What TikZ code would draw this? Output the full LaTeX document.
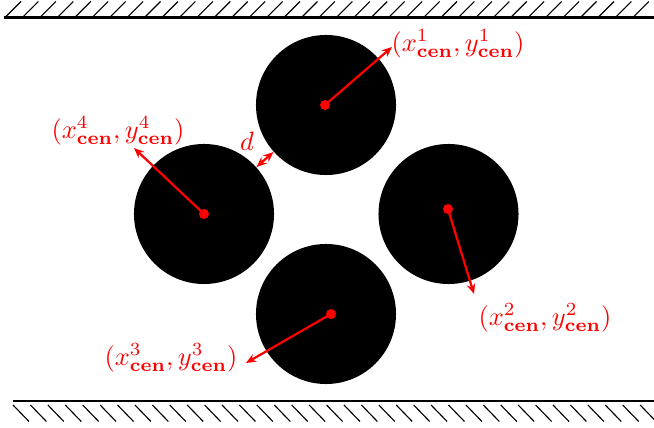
\documentclass[tikz,border=0pt]{standalone}
\usetikzlibrary{arrows.meta}

\begin{document}
\begin{tikzpicture}[
  x=0.0125cm, y=-0.0125cm,
  disk/.style={circle, fill=black, minimum size=1.75cm, inner sep=0pt},
  ctr/.style={circle, fill=red, minimum size=0.125cm, inner sep=0pt},
  arr/.style={-{Stealth[length=3.6pt,width=3pt]}, thick, draw=red},
  dbl/.style={{Stealth[length=3.6pt,width=3pt]}-{Stealth[length=3.6pt,width=3pt]}, thick, draw=red},
  lab/.style={text=red, inner sep=1pt, scale=0.94, transform shape},
  wall/.style={thick},
  hatch/.style={thin}
]
\useasboundingbox (0,0) rectangle (654,428);

% ---------------- walls ----------------
\draw[wall] (4,17.5) -- (654,17.5);
\foreach \i in {0,...,36}
  \draw[hatch] (5+17.44*\i,17.5) -- ++(16,-16);
\draw[wall] (13,401) -- (654,401);
\foreach \i in {0,...,36}
  \draw[hatch] (13+17.42*\i,405) -- ++(16,16.5);

% ---------------- particles ----------------
\node[disk] (c1) at (326,105) {};
\node[disk] (c2) at (448.5,214) {};
\node[disk] (c3) at (326,314) {};
\node[disk] (c4) at (204,214) {};

\node[ctr] (p1) at (325,105) {};
\node[ctr] (p2) at (448,209) {};
\node[ctr] (p3) at (331,314) {};
\node[ctr] (p4) at (204,214) {};

% ---------------- centre labels ----------------
\coordinate (t1) at (392,47);
\coordinate (t2) at (474,294);
\coordinate (t3) at (246,363);
\coordinate (t4) at (134,148);

\node[lab] (l1) at (458,44) {$(x^{1}_{\mathbf{cen}},y^{1}_{\mathbf{cen}})$};
\node[lab] (l2) at (545,318) {$(x^{2}_{\mathbf{cen}},y^{2}_{\mathbf{cen}})$};
\node[lab] (l3) at (171,358) {$(x^{3}_{\mathbf{cen}},y^{3}_{\mathbf{cen}})$};
\node[lab] (l4) at (118,131) {$(x^{4}_{\mathbf{cen}},y^{4}_{\mathbf{cen}})$};

\draw[arr] (p1.center) -- (t1);
\draw[arr] (p2.center) -- (t2);
\draw[arr] (p3.center) -- (t3);
\draw[arr] (p4.center) -- (t4);

% ---------------- gap ----------------
\draw[dbl] (c4) -- (c1);
\node[lab] (d) at (247,141) {$d$};

\end{tikzpicture}
\end{document}
